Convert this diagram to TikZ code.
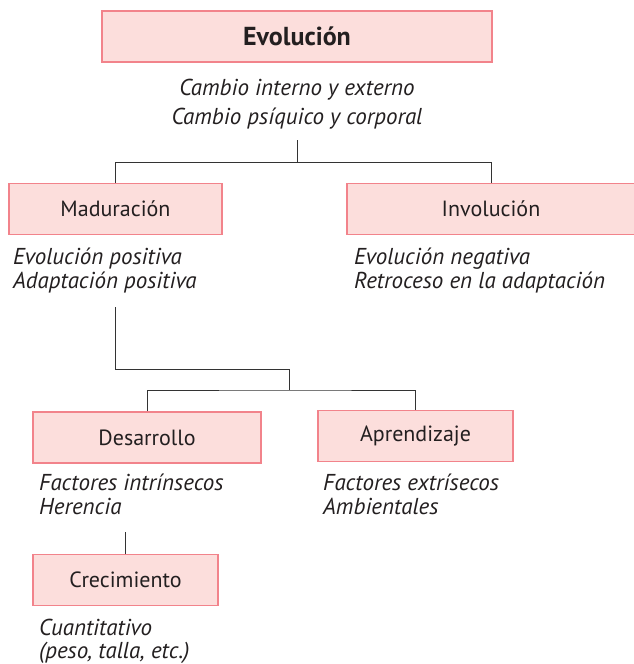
\documentclass[tikz,border=0pt]{standalone}
\usepackage{fontspec}
\setmainfont{PT Sans}
\definecolor{boxfill}{HTML}{FCDEDC}
\definecolor{boxline}{HTML}{F2838B}
\definecolor{ink}{HTML}{231F20}
\definecolor{linegray}{HTML}{333333}

\begin{document}
\begin{tikzpicture}[x=1pt,y=-1pt]
    \tikzstyle{concept}=[draw=boxline, fill=boxfill, line width=1.2pt, inner sep=0pt, minimum height=51pt, text=ink, font=\fontsize{22}{26}\selectfont]
    \tikzstyle{note}=[anchor=north west, align=left, inner sep=0pt, text=ink, font=\itshape\fontsize{23}{23.5}\selectfont]
    \tikzstyle{wire}=[draw=linegray, line width=0.9pt]

    \useasboundingbox (0,0) rectangle (634,664);

    % boxes
    \node[concept, minimum width=390pt, font=\bfseries\fontsize{26}{30}\selectfont] (evol) at (297,36.5) {Evolución};
    \node[concept, minimum width=213pt] (madur) at (115.5,209) {Maduración};
    \node[concept, minimum width=288pt] (invol) at (491,209) {Involución};
    \node[concept, minimum width=228pt] (desarr) at (147,437.5) {Desarrollo};
    \node[concept, minimum width=195pt] (apren) at (415.5,436) {Aprendizaje};
    \node[concept, minimum width=185pt] (crec) at (125.5,580) {Crecimiento};

    % notes
    \node[note, anchor=north, align=center, font=\itshape\fontsize{23}{28.5}\selectfont] (evolnote) at (297,79) {Cambio interno y externo\\Cambio psíquico y corporal};
    \node[note] (madurnote) at (13,248) {Evolución positiva\\Adaptación positiva};
    \node[note] (involnote) at (354,248) {Evolución negativa\\Retroceso en la adaptación};
    \node[note] (desarrnote) at (39,474) {Factores intrínsecos\\Herencia};
    \node[note] (aprennote) at (323,474) {Factores extrísecos\\Ambientales};
    \node[note] (crecnote) at (39,618.5) {Cuantitativo\\(peso, talla, etc.)};

    % joints
    \coordinate (e0) at (297,140);
    \coordinate (j1) at (297,162);
    \coordinate (m0) at (115.5,307);
    \coordinate (j2) at (289,369);
    \coordinate (j3) at (289,390);
    \coordinate (d0) at (125.5,532);

    \draw[wire] (e0) -- (j1) -| (madur.north);
    \draw[wire] (j1) -| (invol.north);
    \draw[wire] (m0) |- (j2) -- (j3);
    \draw[wire] (desarr.north) |- (j3) -| (apren.north);
    \draw[wire] (d0) -- (crec.north);
\end{tikzpicture}
\end{document}
